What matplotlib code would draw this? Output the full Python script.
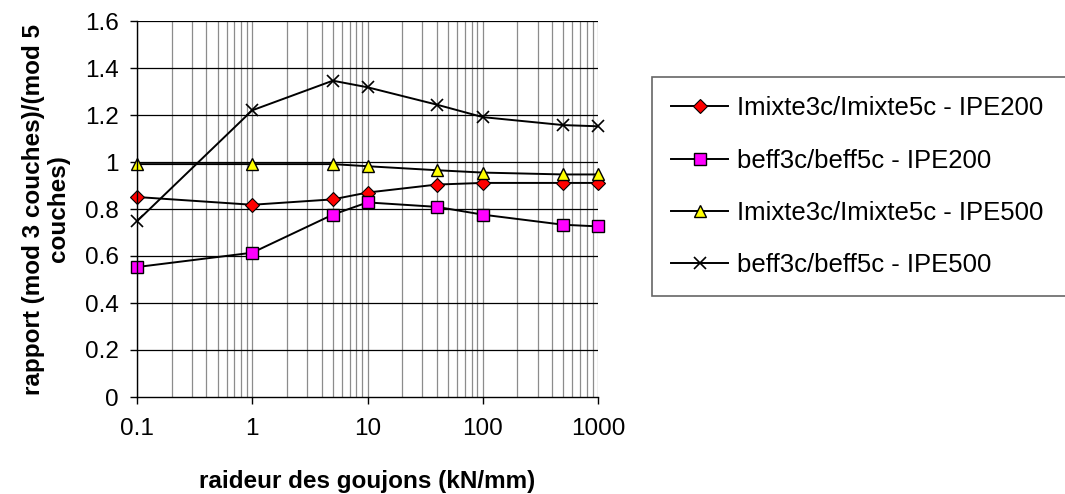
import matplotlib
matplotlib.use("Agg")
import matplotlib.pyplot as plt
from matplotlib.ticker import LogLocator, FixedLocator, NullFormatter

plt.rcParams['font.family'] = ['Liberation Sans', 'DejaVu Sans']

# Stud stiffness (kN/mm)
raideur = [0.1, 1, 5, 10, 40, 100, 500, 1000]

# Ratios 3-layer model / 5-layer model
imixte_ipe200 = [0.851, 0.818, 0.841, 0.870, 0.904, 0.911, 0.911, 0.911]
beff_ipe200 = [0.553, 0.614, 0.776, 0.828, 0.809, 0.776, 0.733, 0.726]
imixte_ipe500 = [0.991, 0.991, 0.991, 0.982, 0.965, 0.955, 0.947, 0.947]
beff_ipe500 = [0.748, 1.220, 1.346, 1.318, 1.244, 1.191, 1.157, 1.152]

labels = [
    "Imixte3c/Imixte5c - IPE200",
    "beff3c/beff5c - IPE200",
    "Imixte3c/Imixte5c - IPE500",
    "beff3c/beff5c - IPE500",
]
x_ticks = [0.1, 1, 10, 100, 1000]
x_ticklabels = ["0.1", "1", "10", "100", "1000"]
y_ticks = [0, 0.2, 0.4, 0.6, 0.8, 1.0, 1.2, 1.4, 1.6]
y_ticklabels = ["0", "0.2", "0.4", "0.6", "0.8", "1", "1.2", "1.4", "1.6"]

FS = 17.5
FS_LEG = 18.5

fig = plt.figure(figsize=(10.65, 4.94), dpi=100)
ax = fig.add_axes([137 / 1065, 1 - 397 / 494, (598 - 137) / 1065, (397 - 21) / 494])

ax.set_xscale("log")
ax.set_xlim(0.1, 1000)
ax.set_ylim(0, 1.6)

# Grid: grey verticals at every log step, black horizontals
ax.xaxis.set_minor_locator(LogLocator(base=10, subs=range(2, 10)))
ax.xaxis.set_minor_formatter(NullFormatter())
for v in ax.xaxis.get_minorticklocs():
    if 0.1 < v < 1000:
        ax.axvline(v, color="#8c8c8c", lw=0.9, zorder=0)
for v in x_ticks:
    ax.axvline(v, color="#8c8c8c", lw=0.9, zorder=0)
for v in y_ticks[1:]:
    ax.axhline(v, color="black", lw=0.9, zorder=0)

lw = 1.4
ax.plot(raideur, imixte_ipe200, color="black", lw=lw, marker="D", ms=7,
        mfc="#ff0000", mec="black", mew=0.8, label=labels[0], clip_on=False)
ax.plot(raideur, beff_ipe200, color="black", lw=lw, marker="s", ms=9,
        mfc="#ff00ff", mec="black", mew=1.0, label=labels[1], clip_on=False)
ax.plot(raideur, imixte_ipe500, color="black", lw=lw, marker="^", ms=9,
        mfc="#ffff00", mec="black", mew=1.0, label=labels[2], clip_on=False)
ax.plot(raideur, beff_ipe500, color="black", lw=lw, marker="x", ms=9,
        mec="black", mew=1.2, label=labels[3], clip_on=False)

ax.xaxis.set_major_locator(FixedLocator(x_ticks))
ax.set_xticklabels(x_ticklabels)
ax.tick_params(axis="x", which="minor", length=0)
ax.set_yticks(y_ticks)
ax.set_yticklabels(y_ticklabels)
ax.tick_params(axis="both", which="major", direction="out", length=5,
               width=1, color="black", labelsize=FS, pad=8)
ax.tick_params(axis="x", which="major", pad=10)

for side in ("top", "right"):
    ax.spines[side].set_visible(False)
for side in ("left", "bottom"):
    ax.spines[side].set_color("black")
    ax.spines[side].set_linewidth(1.0)

ax.set_xlabel("raideur des goujons (kN/mm)", fontsize=FS, fontweight="bold",
              labelpad=22)
ax.set_ylabel("rapport (mod 3 couches)/(mod 5\ncouches)", fontsize=FS,
              fontweight="bold", labelpad=11, linespacing=1.1)

leg = fig.legend(loc="upper left",
                 bbox_to_anchor=(652 / 1065, 1 - 77 / 494, (1080 - 652) / 1065, 0),
                 mode="expand", borderaxespad=0, fontsize=FS_LEG, frameon=True,
                 fancybox=False, edgecolor="#404040", handlelength=2.2,
                 handletextpad=0.35, labelspacing=1.1, borderpad=0.75)
leg.get_frame().set_linewidth(1.2)

fig.savefig("out.png", dpi=100, facecolor="white")
